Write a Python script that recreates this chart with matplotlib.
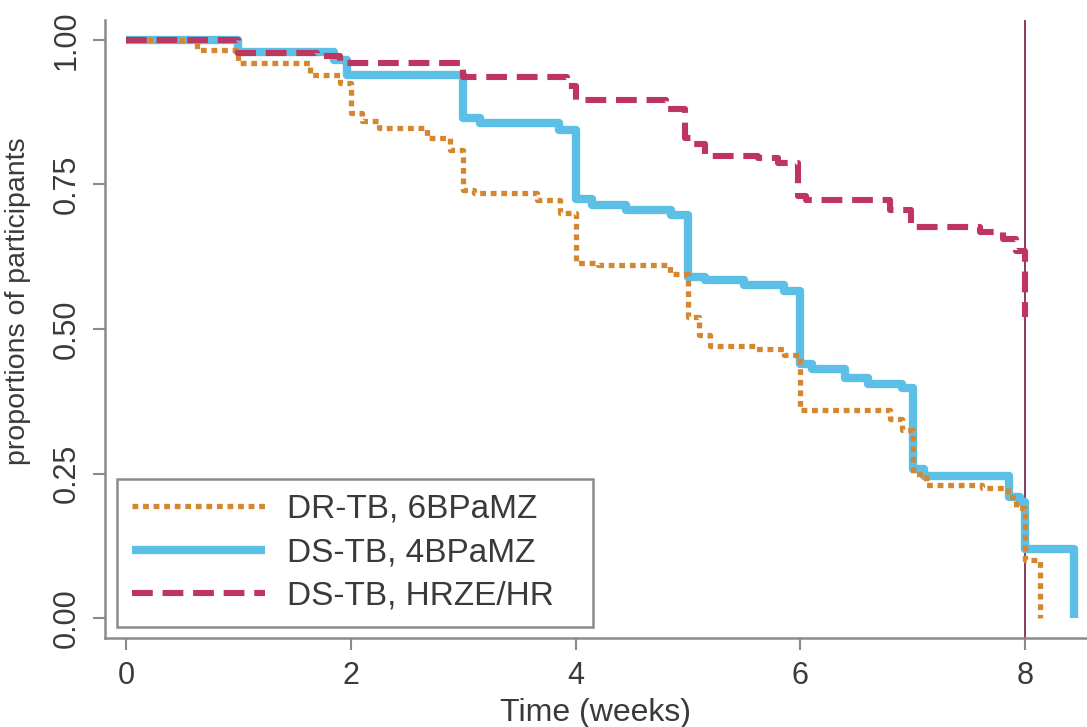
import matplotlib
matplotlib.use("Agg")
import matplotlib.pyplot as plt

# ---- data ----
dr_t = [0, 0.63, 1.0, 1.64, 1.9, 2.0, 2.1, 2.25, 2.68, 2.88, 3.0, 3.1, 3.66, 3.86,
        4.0, 4.2, 4.84, 5.0, 5.1, 5.2, 5.6, 5.85, 6.0, 6.8, 6.9, 7.0, 7.12, 7.62,
        7.85, 7.92, 8.0, 8.13]
dr_s = [1.0, 0.983, 0.96, 0.939, 0.925, 0.873, 0.86, 0.848, 0.83, 0.81, 0.74, 0.735,
        0.723, 0.70, 0.614, 0.61, 0.595, 0.52, 0.49, 0.47, 0.465, 0.455, 0.36, 0.345,
        0.325, 0.25, 0.23, 0.225, 0.21, 0.19, 0.10, 0.0]

ds4_t = [0, 1.0, 1.85, 1.97, 3.0, 3.15, 3.85, 4.0, 4.15, 4.45, 4.85, 5.0, 5.15, 5.5,
         5.85, 6.0, 6.1, 6.4, 6.6, 6.9, 7.0, 7.1, 7.86, 7.95, 8.0, 8.43]
ds4_s = [1.0, 0.98, 0.965, 0.94, 0.865, 0.856, 0.845, 0.725, 0.715, 0.706, 0.697,
         0.59, 0.585, 0.576, 0.565, 0.44, 0.43, 0.415, 0.405, 0.398, 0.258, 0.245,
         0.21, 0.20, 0.12, 0.0]

hr_t = [0, 1.0, 1.7, 1.9, 3.0, 3.92, 4.0, 4.8, 4.97, 5.03, 5.15, 5.62, 5.8, 5.98,
        6.05, 6.8, 6.98, 7.6, 7.8, 7.92, 8.0]
hr_s = [1.0, 0.978, 0.972, 0.96, 0.936, 0.92, 0.896, 0.88, 0.83, 0.82, 0.80, 0.795,
        0.787, 0.73, 0.723, 0.706, 0.677, 0.668, 0.655, 0.635, 0.52]

labels = ["DR-TB, 6BPaMZ", "DS-TB, 4BPaMZ", "DS-TB, HRZE/HR"]
x_ticks = [0, 2, 4, 6, 8]
y_ticks = [0.0, 0.25, 0.50, 0.75, 1.00]
y_ticklabels = ["0.00", "0.25", "0.50", "0.75", "1.00"]
vline_x = 8

# ---- styling ----
plt.rcParams['font.family'] = ['Liberation Sans', 'DejaVu Sans']
text_col = '#3a3a3a'
axis_col = '#8a8a8a'
c_dr = '#D4872F'
c_ds4 = '#5BBFE6'
c_hr = '#BE3560'

fig = plt.figure(figsize=(10.87, 7.27), dpi=100)
ax = fig.add_axes([105/1087, 89/727, 982/1087, 618/727])

l_ds4, = ax.step(ds4_t, ds4_s, where='post', color=c_ds4, lw=6.0,
                 solid_capstyle='butt', zorder=2)
l_dr, = ax.step(dr_t, dr_s, where='post', color=c_dr, lw=3.8,
                linestyle=(0, (1.1, 0.9)), dash_capstyle='butt', zorder=3)
l_hr, = ax.step(hr_t, hr_s, where='post', color=c_hr, lw=4.4,
                linestyle=(0, (3.4, 1.6)), dash_capstyle='butt', zorder=4)
ax.axvline(vline_x, color='#8B3A62', lw=1.4, zorder=1.5)

ax.set_xlim(-0.187, 8.55)
ax.set_ylim(-0.0346, 1.0346)

for s in ['top', 'right']:
    ax.spines[s].set_visible(False)
for s in ['left', 'bottom']:
    ax.spines[s].set_color(axis_col)
    ax.spines[s].set_linewidth(1.8)

ax.set_xticks(x_ticks)
ax.set_xticklabels([str(v) for v in x_ticks])
ax.set_yticks(y_ticks)
ax.set_yticklabels(y_ticklabels, rotation=90, va='center')
ax.tick_params(axis='both', length=8.6, width=1.5, color=axis_col,
               labelsize=22, labelcolor=text_col)
ax.tick_params(axis='x', pad=8)
ax.tick_params(axis='y', pad=8)

ax.set_xlabel("Time (weeks)", fontsize=23, color=text_col, labelpad=5)
ax.set_ylabel("proportions of participants", fontsize=20.5, color=text_col)
ax.yaxis.set_label_coords(-0.075, 0.545)

leg = ax.legend([l_dr, l_ds4, l_hr], labels, loc='lower left',
                bbox_to_anchor=(0.012, 0.018, 0.485, 0.24), mode='expand',
                borderaxespad=0, fontsize=24,
                frameon=True, fancybox=False, framealpha=1, edgecolor=axis_col,
                borderpad=0.45, labelspacing=0.38, handlelength=4.0,
                handletextpad=0.65)
leg.get_frame().set_linewidth(1.8)
for t in leg.get_texts():
    t.set_color(text_col)

fig.savefig("out.png", dpi=100)
